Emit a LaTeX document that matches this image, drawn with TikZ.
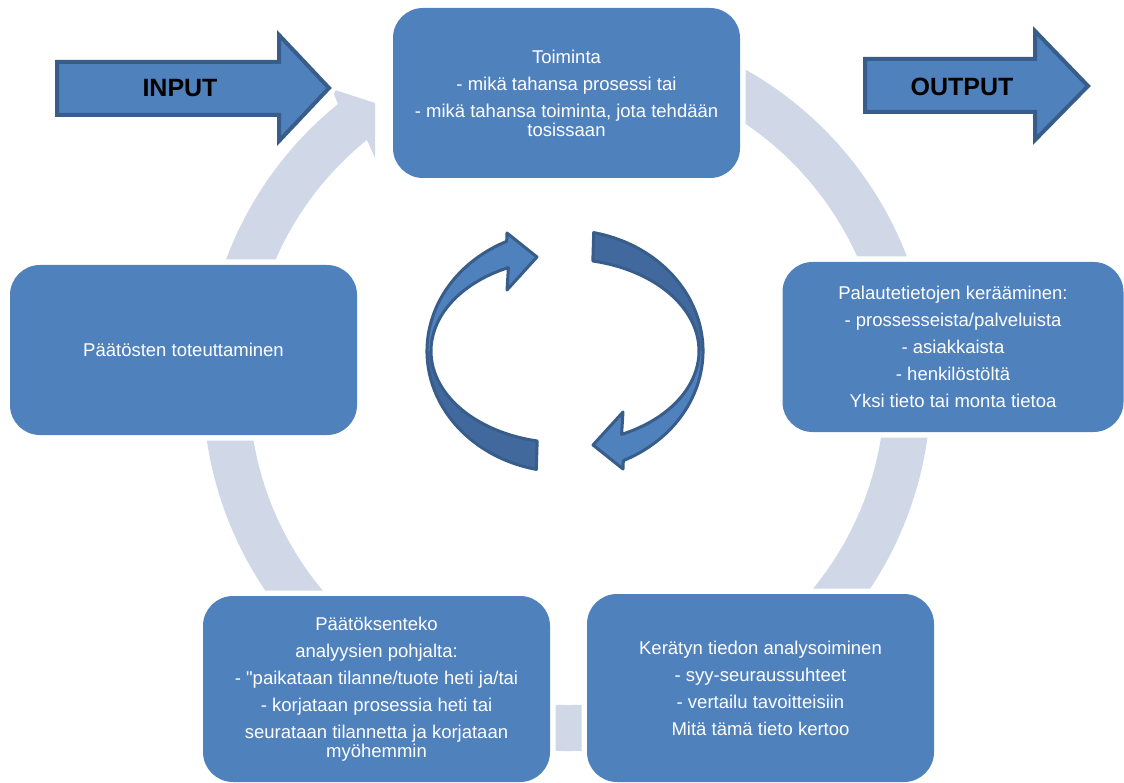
\documentclass[tikz,border=0pt]{standalone}
\usepackage{fontspec}
\setmainfont{Liberation Sans}[Ligatures=TeXOff]
\definecolor{boxblue}{HTML}{4F81BD}
\definecolor{ringgrey}{HTML}{D0D8E8}
\definecolor{edgeblue}{HTML}{385D8A}
\definecolor{shadeblue}{HTML}{41699E}
\tikzset{
  cyclebox/.style={fill=boxblue, rounded corners=30pt, minimum width=347pt, minimum height=170pt,
    inner sep=0pt, align=center, text=white, font=\fontsize{18.5}{19}\selectfont,
    preaction={draw=white, line width=11pt}},
  bigarrow/.style={fill=boxblue, draw=edgeblue, line width=4pt, line join=miter,
    preaction={draw=white, line width=14pt, line join=round}},
  arrowlabel/.style={font=\bfseries\fontsize{25}{25}\selectfont, text=black},
  turnlight/.style={fill=boxblue},
  turndark/.style={fill=shadeblue},
  turnedge/.style={draw=edgeblue, line width=3pt, line join=round}
}
\begin{document}
\begin{tikzpicture}[x=1pt, y=-1pt]
\useasboundingbox (0,0) rectangle (1124,783);

% grey ring behind the boxes
\fill[ringgrey] (630.2,28.5) arc[start angle=-80, end angle=231, radius=364]
  -- (332,89) -- (375,103) -- (375,158) -- (366.9,139.9)
  arc[start angle=231, end angle=-80, radius=318] -- cycle;

% input and output
\draw[bigarrow] (57,62) -- (279,62) -- (279,35) -- (329,88) -- (279,141) -- (279,115) -- (57,115) -- cycle;
\node[arrowlabel] (input) at (180,88) {INPUT};
\draw[bigarrow] (865,59) -- (1035,59) -- (1035,31) -- (1088,86) -- (1035,140) -- (1035,112) -- (865,112) -- cycle;
\node[arrowlabel] (output) at (962,87) {OUTPUT};

% steps of the cycle
\node[cyclebox] (act) at (566.5,93) {Toiminta\\[8pt]- mikä tahansa prosessi tai\\[8pt]- mikä tahansa toiminta, jota tehdään\\tosissaan};
\node[cyclebox, minimum width=341pt] (collect) at (953,347) {Palautetietojen kerääminen:\\[8pt]- prossesseista/palveluista\\[8pt]- asiakkaista\\[8pt]- henkilöstöltä\\[8pt]Yksi tieto tai monta tietoa};
\node[cyclebox, minimum height=188pt] (analyse) at (760.5,688) {Kerätyn tiedon analysoiminen\\[8pt]- syy-seuraussuhteet\\[8pt]- vertailu tavoitteisiin\\[8pt]Mitä tämä tieto kertoo};
\node[cyclebox, minimum height=186pt] (decide) at (376.5,689) {Päätöksenteko\\[8pt]analyysien pohjalta:\\[8pt]- "paikataan tilanne/tuote heti ja/tai\\[8pt]- korjataan prosessia heti tai\\[8pt]seurataan tilannetta ja korjataan\\myöhemmin};
\node[cyclebox] (apply) at (183.5,350) {Päätösten toteuttaminen};

% two turning arrows in the middle
\foreach \turn in {0,180}{
\begin{scope}[rotate around={\turn:(565,351)}]
  \fill[turndark] (536.3,469.4) arc[start angle=102, end angle=180, x radius=138, y radius=121]
    -- (431,351) arc[start angle=180, end angle=102, x radius=134, y radius=92] -- cycle;
  \fill[turnlight] (427,351) arc[start angle=180, end angle=245, x radius=138, y radius=121]
    -- (507,233) -- (537,257) -- (507,290) -- (508.4,267.6)
    arc[start angle=245, end angle=180, x radius=134, y radius=92] -- cycle;
  \draw[turnedge] (536.3,469.4) arc[start angle=102, end angle=245, x radius=138, y radius=121]
    -- (507,233) -- (537,257) -- (507,290) -- (508.4,267.6)
    arc[start angle=245, end angle=102, x radius=134, y radius=92] -- cycle;
\end{scope}}
\end{tikzpicture}
\end{document}
